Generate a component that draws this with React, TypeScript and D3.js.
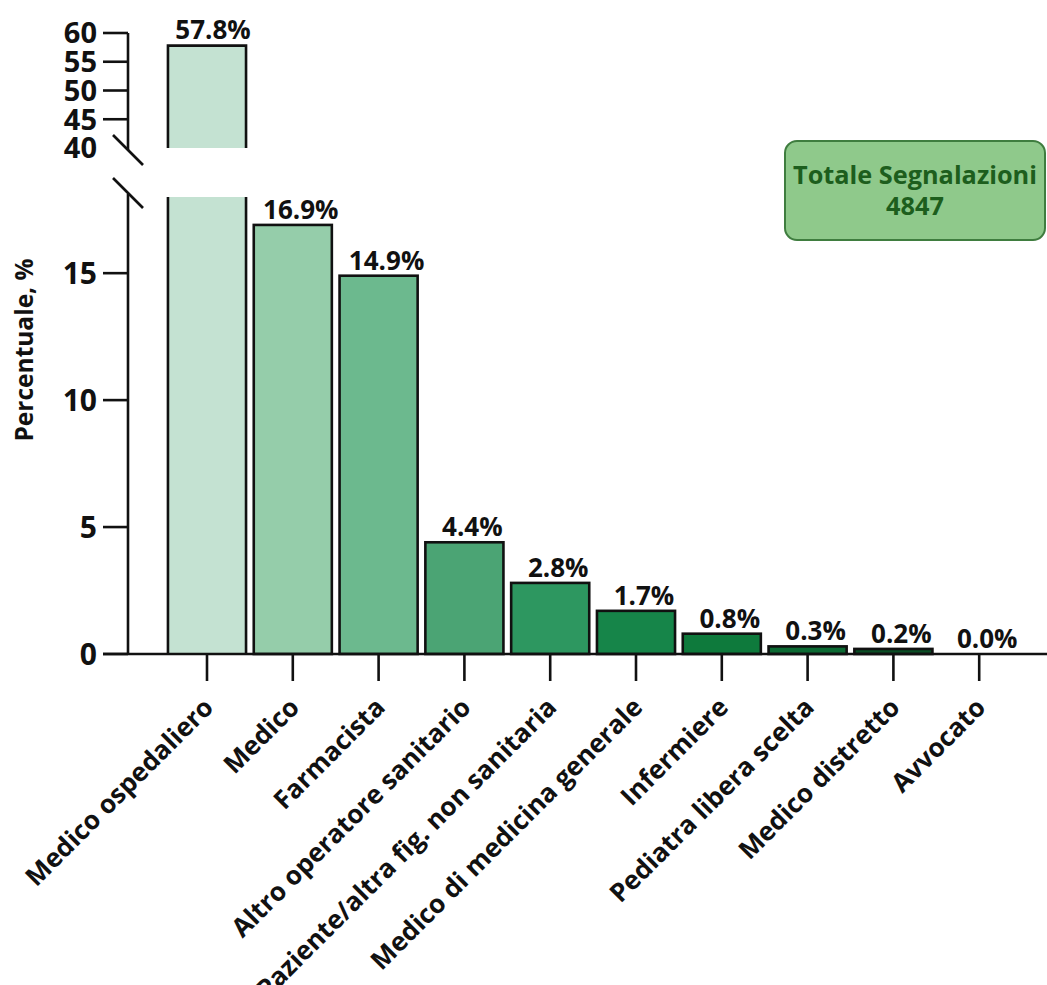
import React from "react";
import * as d3 from "d3";

const categories = [
  "Medico ospedaliero",
  "Medico",
  "Farmacista",
  "Altro operatore sanitario",
  "Paziente/altra fig. non sanitaria",
  "Medico di medicina generale",
  "Infermiere",
  "Pediatra libera scelta",
  "Medico distretto",
  "Avvocato",
];
const values = [57.8, 16.9, 14.9, 4.4, 2.8, 1.7, 0.8, 0.3, 0.2, 0.0];
const barColors = [
  "#c4e2d2",
  "#95cdaa",
  "#6cb98e",
  "#4ba474",
  "#2d9760",
  "#168549",
  "#0e7a3c",
  "#0c6a33",
  "#0a4d25",
  "#08401f",
];
const lowerTicks = [0, 5, 10, 15];
const upperTicks = [45, 50, 55, 60];
const upperLabels = [40, 45, 50, 55, 60];
const yTitle = "Percentuale, %";
const totalTitle = "Totale Segnalazioni";
const totalValue = "4847";

const W = 1047;
const H = 985;
const FONT = "'Open Sans', 'DejaVu Sans', sans-serif";

export default function App() {
  const axisX = 128;
  const baseY = 654;
  const lowerTopY = 197;
  const upperBottomY = 148;
  const upperTopY = 33;

  const yLow = d3.scaleLinear().domain([0, 18]).range([baseY, lowerTopY]);
  const yUp = d3.scaleLinear().domain([40, 60]).range([upperBottomY, upperTopY]);
  const x = d3
    .scaleBand<string>()
    .domain(categories)
    .range([164.1, 1022.1])
    .paddingInner(0.09)
    .paddingOuter(0.045);
  const bw = x.bandwidth();

  const stroke = "#111";
  const sw = 2.6;

  return (
    <svg
      width={W}
      height={H}
      viewBox={`0 0 ${W} ${H}`}
      style={{ position: "absolute", left: 0, top: 0, background: "#fff" }}
      fontFamily={FONT}
      fontWeight={700}
    >
      <rect x={0} y={0} width={W} height={H} fill="#fff" />
      {/* bars */}
      {categories.map((c, i) => {
        const v = values[i];
        const x0 = x(c)!;
        const x1 = x0 + bw;
        const cx = x0 + bw / 2;
        if (v > 18) {
          const top = yUp(v);
          return (
            <g key={c}>
              <rect x={x0} y={top} width={bw} height={upperBottomY - top} fill={barColors[i]} />
              <rect x={x0} y={lowerTopY} width={bw} height={baseY - lowerTopY} fill={barColors[i]} />
              <path
                d={`M${x0},${upperBottomY}V${top}H${x1}V${upperBottomY}`}
                fill="none"
                stroke={stroke}
                strokeWidth={sw}
              />
              <path
                d={`M${x0},${lowerTopY}V${baseY}M${x1},${lowerTopY}V${baseY}`}
                fill="none"
                stroke={stroke}
                strokeWidth={sw}
              />
              <text x={cx + 6} y={top - 7} textAnchor="middle" fontSize={26} fill="#111">
                {v.toFixed(1)}%
              </text>
            </g>
          );
        }
        const top = yLow(v);
        return (
          <g key={c}>
            {v > 0 && (
              <rect
                x={x0}
                y={top}
                width={bw}
                height={baseY - top}
                fill={barColors[i]}
                stroke={stroke}
                strokeWidth={sw}
              />
            )}
            <text x={cx + 8} y={top - 6} textAnchor="middle" fontSize={26} fill="#111">
              {v.toFixed(1)}%
            </text>
          </g>
        );
      })}

      {/* y axis */}
      <line x1={axisX} x2={axisX} y1={upperTopY} y2={150} stroke={stroke} strokeWidth={sw} />
      <line x1={axisX} x2={axisX} y1={194} y2={baseY} stroke={stroke} strokeWidth={sw} />
      {/* break slashes */}
      <line x1={113} y1={135} x2={143} y2={165} stroke={stroke} strokeWidth={sw} />
      <line x1={113} y1={178} x2={143} y2={208} stroke={stroke} strokeWidth={sw} />

      {lowerTicks.map((t) => (
        <g key={`l${t}`}>
          <line x1={103} x2={axisX} y1={yLow(t)} y2={yLow(t)} stroke={stroke} strokeWidth={sw} />
          <text x={97} y={yLow(t)} dy="0.36em" textAnchor="end" fontSize={30} fill="#111">
            {t}
          </text>
        </g>
      ))}
      {upperTicks.map((t) => (
        <line key={`ut${t}`} x1={103} x2={axisX} y1={yUp(t)} y2={yUp(t)} stroke={stroke} strokeWidth={sw} />
      ))}
      {upperLabels.map((t) => (
        <text key={`ul${t}`} x={97} y={yUp(t)} dy="0.36em" textAnchor="end" fontSize={29} fill="#111">
          {t}
        </text>
      ))}

      {/* x axis */}
      <line x1={103} x2={W} y1={baseY} y2={baseY} stroke={stroke} strokeWidth={sw} />
      {categories.map((c) => {
        const cx = x(c)! + bw / 2;
        return (
          <g key={`xt${c}`}>
            <line x1={cx} x2={cx} y1={baseY} y2={681} stroke={stroke} strokeWidth={sw} />
            <text
              transform={`translate(${cx + 8},${709}) rotate(-45)`}
              textAnchor="end"
              fontSize={26}
              fill="#111"
            >
              {c}
            </text>
          </g>
        );
      })}

      {/* y title */}
      <text
        transform={`translate(33,350) rotate(-90)`}
        textAnchor="middle"
        fontSize={24.5}
        fill="#111"
      >
        {yTitle}
      </text>

      {/* total box */}
      <rect x={785} y={141} width={260} height={99} rx={12} ry={12} fill="#8fc98b" stroke="#3f7d3f" strokeWidth={2} />
      <text x={915} y={184} textAnchor="middle" fontSize={25.3} fill="#1d5e1d">
        {totalTitle}
      </text>
      <text x={915} y={215} textAnchor="middle" fontSize={25.3} fill="#1d5e1d">
        {totalValue}
      </text>
    </svg>
  );
}
